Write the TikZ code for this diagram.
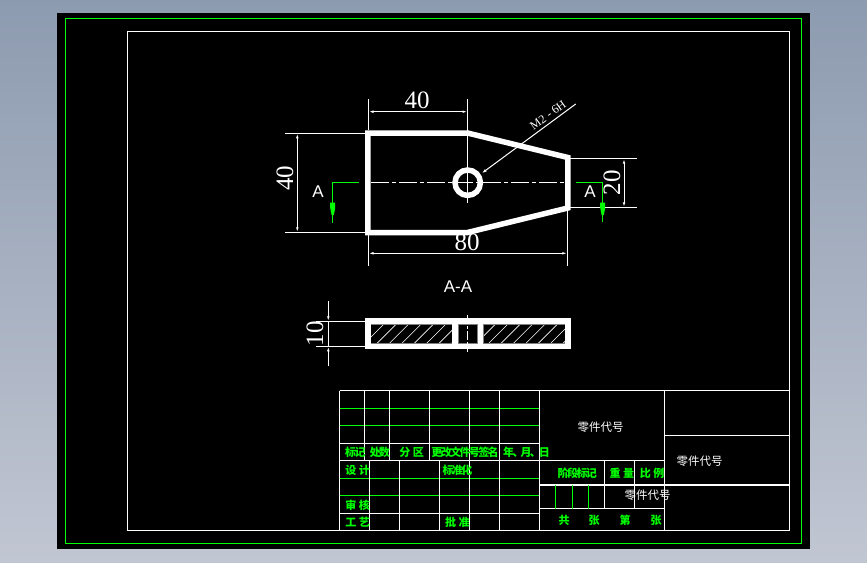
\documentclass[tikz,border=0pt]{standalone}
\usepackage{fontspec}
\setmainfont{Liberation Serif}
\newfontfamily\sansf{Liberation Sans}
\newfontfamily\cjk{Noto Sans CJK SC}
\usetikzlibrary{arrows.meta}
\definecolor{cadgreen}{RGB}{0,255,0}
\definecolor{bgtop}{RGB}{141,155,176}
\definecolor{bgbot}{RGB}{193,198,210}
\tikzset{
  wl/.style={draw=white,line width=1.1pt},
  gl/.style={draw=cadgreen,line width=1.1pt},
  part/.style={draw=white,line width=5.5pt,line join=miter},
  thin line/.style={draw=white,line width=1pt},
  dimline/.style={thin line,{Latex[length=5pt,width=2.6pt]}-{Latex[length=5pt,width=2.6pt]}},
  dimtext/.style={text=white,font=\fontsize{25}{25}\selectfont,inner sep=0pt},
  sect/.style={text=white,font=\sansf\fontsize{17}{17}\selectfont,inner sep=0pt},
  gtext/.style={text=cadgreen,font=\cjk\bfseries\fontsize{11}{11}\selectfont,inner sep=0pt},
  wtext/.style={text=white,font=\cjk\fontsize{11.5}{11.5}\selectfont,inner sep=0pt},
}
\newcommand{\kk}{\kern-1.6pt}
\begin{document}
\begin{tikzpicture}[x=1pt,y=-1pt]
\useasboundingbox (0,0) rectangle (867,562);
\shade[top color=bgtop,bottom color=bgbot] (0,0) rectangle (867,562);
\fill[black] (57,13) rectangle (810,549);
\draw[gl] (65.5,18.5) rectangle (801.5,543.5);
\draw[wl] (127.5,31.5) rectangle (789.5,530.5);

% ---- plan view ----
\coordinate (pa) at (367.8,133);
\coordinate (pb) at (467.5,133);
\coordinate (pc) at (567.8,157.5);
\coordinate (pd) at (567.8,208);
\coordinate (pe) at (467.5,232.5);
\coordinate (pf) at (367.8,232.5);
\coordinate (hole) at (467.7,182.7);
\draw[part] (pa)--(pb)--(pc)--(pd)--(pe)--(pf)--cycle;
\draw[draw=white,line width=5.5pt] (hole) circle (12.7);
% centre lines
\draw[thin line,dash pattern=on 18pt off 3pt on 4pt off 3pt] (371,182.7)--(566.7,182.7);
\draw[thin line] (467.7,130)--(467.7,203);
% dimension 40 (top)
\coordinate (t1) at (368.5,99);
\coordinate (t2) at (467.5,99);
\coordinate (t3) at (368.5,130);
\coordinate (t4) at (467.5,130);
\coordinate (t5) at (368.5,111.7);
\coordinate (t6) at (467.5,111.7);
\draw[thin line] (t1)--(t3) (t2)--(t4);
\draw[dimline] (t5)--(t6);
\node[dimtext] (dimtop) at (417,100) {40};
% dimension 40 (left)
\coordinate (l1) at (285,133.3);
\coordinate (l2) at (365,133.3);
\coordinate (l3) at (285,232.3);
\coordinate (l4) at (365,232.3);
\coordinate (l5) at (297.3,133.3);
\coordinate (l6) at (297.3,232.3);
\draw[thin line] (l1)--(l2) (l3)--(l4);
\draw[dimline] (l5)--(l6);
\node[dimtext,rotate=90] (dimleft) at (285,178) {40};
% dimension 80
\coordinate (b1) at (368.5,235);
\coordinate (b2) at (368.5,265.5);
\coordinate (b3) at (567.3,208);
\coordinate (b4) at (567.3,265.5);
\coordinate (b5) at (368.5,253.3);
\coordinate (b6) at (567.3,253.3);
\draw[thin line] (b1)--(b2) (b3)--(b4);
\draw[dimline] (b5)--(b6);
\node[dimtext] (dimbot) at (467,242) {80};
% dimension 20
\coordinate (r1) at (570,158.7);
\coordinate (r2) at (636.7,158.7);
\coordinate (r3) at (570,207.3);
\coordinate (r4) at (636.7,207.3);
\coordinate (r5) at (624,158.7);
\coordinate (r6) at (624,207.3);
\draw[thin line] (r1)--(r2) (r3)--(r4);
\draw[dimline] (r5)--(r6);
\node[dimtext,rotate=90] (dimright) at (612,182.5) {20};
% leader
\coordinate (ld1) at (481.7,173.3);
\coordinate (ld2) at (575.7,104);
\draw[thin line,{Latex[length=5pt,width=3pt]}-] (ld1)--(ld2);
\node[text=white,font=\fontsize{12}{12}\selectfont,inner sep=0pt,rotate=36.4] (thread) at (548,115) {M2 - 6H};
% section marks
\draw[gl] (359,182.7)--(332.7,182.7)--(332.7,223);
\draw[gl] (576,182.7)--(602.7,182.7)--(602.7,222);
\fill[cadgreen] (330.2,202.5)--(335.2,202.5)--(335.2,208)--(333.8,215)--(331.6,215)--(330.2,208)--cycle;
\fill[cadgreen] (600.2,202.5)--(605.2,202.5)--(605.2,208)--(603.8,215)--(601.6,215)--(600.2,208)--cycle;
\node[sect] (aleft) at (318,192) {A};
\node[sect] (aright) at (590,192) {A};
\node[sect] (aa) at (458,287) {A-A};

% ---- section view ----
\begin{scope}
\clip (370.7,324) rectangle (452.3,343.3) (483.3,324) rectangle (565,343.3);
\foreach \k in {0,...,21}{
  \draw[draw=white,line width=0.6pt] (360+12.4*\k,348)--(390+12.4*\k,318);
}
\end{scope}
\draw[draw=gray,line width=0.6pt] (370.7,324) rectangle (452.3,343.3) (458,324) rectangle (477.7,343.3) (483.3,324) rectangle (565.4,343.3);
\draw[part] (368,321.2) rectangle (568,346.3);
\draw[draw=white,line width=5.6pt] (455.2,321.2)--(455.2,346.3) (480.5,321.2)--(480.5,346.3);
\draw[thin line,dash pattern=on 9pt off 2pt on 3pt off 2pt] (467.3,315)--(467.3,351.7);
% dimension 10
\coordinate (s1) at (316,321.3);
\coordinate (s2) at (365,321.3);
\coordinate (s3) at (316,346.3);
\coordinate (s4) at (365,346.3);
\coordinate (s5) at (328.3,301);
\coordinate (s6) at (328.3,321.3);
\coordinate (s7) at (328.3,346.3);
\coordinate (s8) at (328.3,365.7);
\draw[thin line] (s1)--(s2) (s3)--(s4) (s6)--(s7);
\draw[thin line,-{Latex[length=5pt,width=2.6pt]}] (s5)--(s6);
\draw[thin line,-{Latex[length=5pt,width=2.6pt]}] (s8)--(s7);
\node[dimtext,rotate=90] (dimten) at (315,333.5) {10};

% ---- title block ----
\draw[gl] (339.5,408.5)--(539.5,408.5) (339.5,425.5)--(539.5,425.5)
          (339.5,478.5)--(539.5,478.5) (339.5,495.5)--(539.5,495.5);
\draw[wl] (339.5,390.5)--(789.5,390.5) (339.5,390.5)--(339.5,530.5)
          (339.5,443.5)--(539.5,443.5) (339.5,460.5)--(664.5,460.5)
          (339.5,513.5)--(539.5,513.5);
\foreach \x in {364.5,389.5,429.5}{\draw[wl] (\x,390.5)--(\x,460.5);}
\foreach \x in {469.5,499.5}{\draw[wl] (\x,390.5)--(\x,530.5);}
\foreach \x in {369.5,399.5,439.5}{\draw[wl] (\x,460.5)--(\x,530.5);}
\draw[wl] (539.5,390.5)--(539.5,530.5) (664.5,390.5)--(664.5,530.5);
\draw[wl] (664.5,435.5)--(789.5,435.5) (539.5,485)--(789.5,485) (539.5,508.5)--(664.5,508.5);
\draw[wl] (604.5,460.5)--(604.5,508.5) (634.5,460.5)--(634.5,508.5);
\draw[gl] (555.5,485)--(555.5,508.5) (572.5,485)--(572.5,508.5) (588.5,485)--(588.5,508.5);

\node[gtext] (t01) at (355.4,452) {标\kk 记};
\node[gtext] (t02) at (379.7,452) {处\kk 数};
\node[gtext] (t03) at (411.7,452) {分\kern2.5pt 区};
\node[gtext] (t04) at (465,452) {更\kk 改\kk 文\kk 件\kk 号\kk 签\kk 名};
\node[gtext] (t05) at (526.5,452) {年\kk 、\kern-3pt 月\kk 、\kern-2pt 日};
\node[gtext] (t06) at (357.7,470) {设\kern2.5pt 计};
\node[gtext] (t07) at (457.5,470) {标\kk 准\kk 化};
\node[gtext] (t08) at (357.5,505) {审\kern2.5pt 核};
\node[gtext] (t09) at (357.7,522.5) {工\kern2.5pt 艺};
\node[gtext] (t10) at (457.3,522) {批\kern2.5pt 准};
\node[gtext] (t11) at (577.3,473.3) {阶\kk 段\kk 标\kk 记};
\node[gtext] (t12) at (621.8,473.3) {重\kern2.5pt 量};
\node[gtext] (t13) at (652,473.3) {比\kern2.5pt 例};
\node[gtext] (t14) at (564,520) {共};
\node[gtext] (t15) at (594,520) {张};
\node[gtext] (t16) at (625,520) {第};
\node[gtext] (t17) at (656,520) {张};
\node[wtext] (p1) at (600.5,427) {零件代号};
\node[wtext] (p2) at (699.5,461.5) {零件代号};
\node[wtext] (p3) at (647.5,495.5) {零件代号};
\end{tikzpicture}
\end{document}
